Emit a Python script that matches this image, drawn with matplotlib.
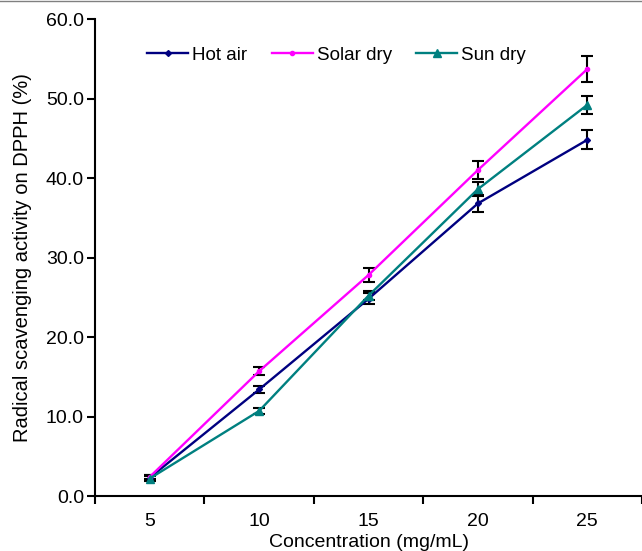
import matplotlib.pyplot as plt
from matplotlib.lines import Line2D

# data
conc = [5, 10, 15, 20, 25]
hot_air = [2.3, 13.4, 24.8, 36.8, 44.8]
hot_air_err = [0.3, 0.5, 0.7, 1.1, 1.2]
solar_dry = [2.4, 15.7, 27.8, 41.0, 53.7]
solar_dry_err = [0.3, 0.5, 0.9, 1.1, 1.6]
sun_dry = [2.2, 10.7, 25.2, 38.6, 49.2]
sun_dry_err = [0.3, 0.4, 0.6, 0.9, 1.1]

plt.rcParams['font.family'] = ['Liberation Sans', 'DejaVu Sans']
plt.rcParams['font.size'] = 14

fig = plt.figure(figsize=(6.42, 5.51), dpi=100)
ax = fig.add_axes([0.148, 0.0998, 0.852, 0.8657])

err_kw = dict(ecolor='black', elinewidth=1.5, capsize=4.5, capthick=1.5, zorder=2)
ax.errorbar(conc, hot_air, yerr=hot_air_err, color='#000080', lw=1.7,
            marker='D', ms=3, label='Hot air', **err_kw)
ax.errorbar(conc, solar_dry, yerr=solar_dry_err, color='#FF00FF', lw=1.7,
            marker='o', ms=3, label='Solar dry', **err_kw)
ax.errorbar(conc, sun_dry, yerr=sun_dry_err, color='#008080', lw=1.7,
            marker='^', ms=6, label='Sun dry', **err_kw)

ax.set_xlim(2.5, 26.9)
ax.set_ylim(0, 60)
ax.set_yticks(range(0, 61, 10))
ax.set_yticklabels(['%.1f' % v for v in range(0, 61, 10)])

# unlabelled tick marks between the labelled concentrations
ax.set_xticks([2.5, 7.5, 12.5, 17.5, 22.5, 27.5])
ax.set_xticklabels([])
ax.set_xticks(conc, minor=True)
ax.set_xticklabels([str(c) for c in conc], minor=True)
ax.tick_params(axis='x', which='minor', length=0, pad=12)
ax.tick_params(axis='both', which='major', length=6, width=1.5, direction='out')
ax.tick_params(axis='y', pad=2)
ax.tick_params(labelsize=14)

for s in ['top', 'right']:
    ax.spines[s].set_visible(False)
for s in ['left', 'bottom']:
    ax.spines[s].set_linewidth(1.5)

ax.set_xlabel('Concentration (mg/mL)', fontsize=14, labelpad=3)
ax.set_ylabel('Radical scavenging activity on DPPH (%)', fontsize=14.5, labelpad=10)

handles, labels = ax.get_legend_handles_labels()
handles = [h[0] for h in handles]
ax.legend(handles, labels, loc='center left', bbox_to_anchor=(0.229, 0.90),
          bbox_transform=fig.transFigure, ncol=3, frameon=False,
          borderpad=0, borderaxespad=0,
          handlelength=2.2, handletextpad=0.2, columnspacing=1.3, fontsize=13.5)

# thin border line at the top of the cropped figure
fig.add_artist(Line2D([0, 1], [0.998, 0.998], color='gray', lw=1))

fig.savefig('out.png', dpi=100)
